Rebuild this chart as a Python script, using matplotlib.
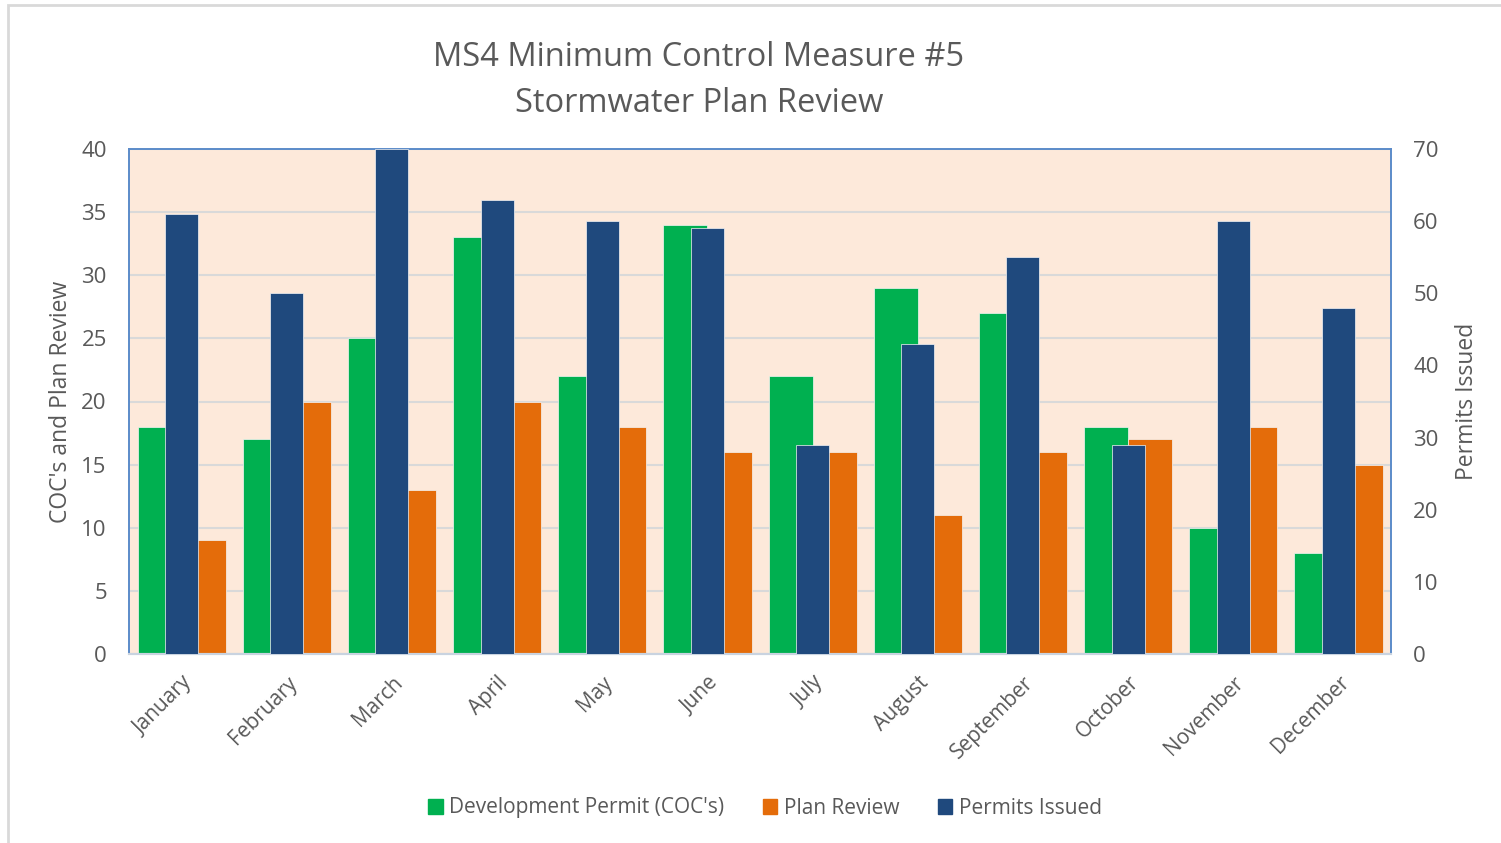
import matplotlib
matplotlib.use("Agg")
import matplotlib.pyplot as plt
import numpy as np

plt.rcParams['font.family'] = ['Open Sans', 'DejaVu Sans']

months = ['January', 'February', 'March', 'April', 'May', 'June', 'July',
          'August', 'September', 'October', 'November', 'December']
dev_permits = [18, 17, 25, 33, 22, 34, 22, 29, 27, 18, 10, 8]
plan_review = [9, 20, 13, 20, 18, 16, 16, 11, 16, 17, 18, 15]
permits_issued = [61, 50, 70, 63, 60, 59, 29, 43, 55, 29, 60, 48]

GREEN = '#00B050'
ORANGE = '#E46C0A'
NAVY = '#1F497D'
TXT = '#595959'

fig = plt.figure(figsize=(15.01, 8.43), dpi=100)
# chart border (light grey frame, partly cut off at right/bottom)
fig.patches.append(matplotlib.patches.Rectangle(
    (8 / 1501, -0.1), 1.2, 1 - 5 / 843 + 0.1, transform=fig.transFigure,
    fill=False, edgecolor='#D9D9D9', lw=2))

ax = fig.add_axes([129 / 1501, 1 - 654 / 843, 1262 / 1501, 505 / 843])
ax.set_facecolor('#FDE9DA')
x = np.arange(len(months))

ax.bar(x - 0.418, dev_permits, width=0.418, align='edge', color=GREEN,
       edgecolor='#F5F5F5', lw=0.5, zorder=2)
ax.bar(x, plan_review, width=0.42, align='edge', color=ORANGE,
       edgecolor='#F5F5F5', lw=0.5, zorder=2)
ax.set_xlim(-0.5, len(months) - 0.5)
ax.set_ylim(0, 40)
ax.set_yticks(range(0, 41, 5))
ax.yaxis.grid(True, color='#D9D9D9', lw=1.5, zorder=1)
ax.set_axisbelow(True)

ax2 = ax.twinx()
ax2.bar(x, permits_issued, width=0.314, color=NAVY,
        edgecolor='#F5F5F5', lw=0.5, zorder=3)
ax2.set_ylim(0, 70)
ax2.set_yticks(range(0, 71, 10))

for a in (ax, ax2):
    for side in ('left', 'right', 'top'):
        a.spines[side].set_color('#5B8BC9')
        a.spines[side].set_linewidth(1.2)
    a.spines['bottom'].set_color('#C9D3E0')
    a.spines['bottom'].set_linewidth(1.5)
    a.tick_params(length=0, labelsize=16, labelcolor=TXT)

ax.tick_params(axis='y', pad=16)
ax2.tick_params(axis='y', pad=16)
ax.set_xticks(x)
ax.set_xticklabels(months, rotation=45, ha='right', va='top',
                   rotation_mode='anchor', fontsize=15)
ax.tick_params(axis='x', pad=13)

ax.set_ylabel("COC's and Plan Review", fontsize=16.5, color=TXT, labelpad=6)
ax2.set_ylabel('Permits Issued', fontsize=16.5, color=TXT, labelpad=12)

fig.text(0.4655, 1 - 57 / 843, 'MS4 Minimum Control Measure #5',
         ha='center', va='center', fontsize=23.5, color=TXT)
fig.text(0.4655, 1 - 103 / 843, 'Stormwater Plan Review',
         ha='center', va='center', fontsize=23.5, color=TXT)

handles = [matplotlib.patches.Patch(color=c) for c in (GREEN, ORANGE, NAVY)]
fig.legend(handles, ["Development Permit (COC's)", 'Plan Review', 'Permits Issued'],
           loc='center', bbox_to_anchor=(765 / 1501, 1 - 808 / 843), ncol=3,
           frameon=False, fontsize=15, labelcolor=TXT, handlelength=0.7,
           handleheight=0.7, handletextpad=0.3, columnspacing=1.85)

fig.savefig('out.png', dpi=100)
